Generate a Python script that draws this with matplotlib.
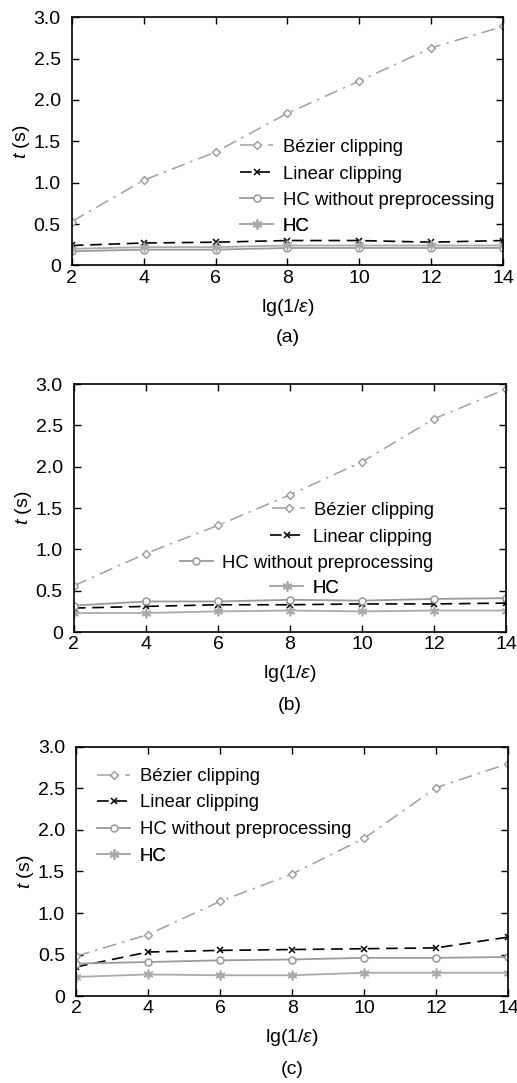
import matplotlib
matplotlib.use("Agg")
import matplotlib.pyplot as plt

plt.rcParams['font.family'] = ['Liberation Sans', 'DejaVu Sans']
plt.rcParams['mathtext.fontset'] = 'custom'
plt.rcParams['mathtext.rm'] = 'Liberation Sans'
plt.rcParams['mathtext.it'] = 'Liberation Sans:italic'

# data
x = [2, 4, 6, 8, 10, 12, 14]
labels = ['Bézier clipping', 'Linear clipping', 'HC without preprocessing', 'HC']

bezier_a = [0.53, 1.03, 1.37, 1.84, 2.23, 2.63, 2.89]
linear_a = [0.24, 0.27, 0.28, 0.30, 0.30, 0.28, 0.30]
hcwo_a = [0.17, 0.19, 0.19, 0.21, 0.21, 0.21, 0.21]
hc_a = [0.20, 0.22, 0.22, 0.24, 0.24, 0.24, 0.24]

bezier_b = [0.56, 0.95, 1.29, 1.66, 2.06, 2.58, 2.94]
linear_b = [0.29, 0.31, 0.33, 0.33, 0.34, 0.34, 0.35]
hcwo_b = [0.32, 0.37, 0.37, 0.39, 0.38, 0.40, 0.41]
hc_b = [0.23, 0.23, 0.25, 0.26, 0.25, 0.26, 0.26]

bezier_c = [0.48, 0.74, 1.14, 1.47, 1.90, 2.51, 2.80]
linear_c = [0.35, 0.53, 0.55, 0.56, 0.57, 0.58, 0.71]
hcwo_c = [0.39, 0.41, 0.43, 0.44, 0.46, 0.46, 0.47]
hc_c = [0.23, 0.26, 0.25, 0.25, 0.28, 0.28, 0.28]

# legend entry positions (axes fraction, left edge of handle)
leg_a = [(0.39, 0.476), (0.39, 0.367), (0.39, 0.262), (0.39, 0.157)]
leg_b = [(0.458, 0.492), (0.454, 0.383), (0.245, 0.278), (0.454, 0.177)]
leg_c = [(0.049, 0.88), (0.049, 0.775), (0.049, 0.667), (0.049, 0.562)]

panels = [
    ('(a)', [0.139, 0.755, 0.834, 0.229], bezier_a, linear_a, hcwo_a, hc_a, leg_a, 308, 337),
    ('(b)', [0.143, 0.4164, 0.836, 0.229], bezier_b, linear_b, hcwo_b, hc_b, leg_b, 673, 705),
    ('(c)', [0.147, 0.0803, 0.836, 0.230], bezier_c, linear_c, hcwo_c, hc_c, leg_c, 1038, 1070),
]

H = 1083
asterisk = (6, 2, 0)
fig = plt.figure(figsize=(5.17, 10.83), dpi=100)

for tag, rect, bz, ln, hw, hc, legpos, xl_y, cap_y in panels:
    ax = fig.add_axes(rect)
    l1, = ax.plot(x, bz, color='#a0a0a0', ls=(0, (9, 4, 1.5, 4)), lw=1.1,
                  marker='D', ms=4.5, mfc='white', mec='#999999', mew=1.0)
    l2, = ax.plot(x, ln, color='black', ls=(0, (7, 4)), lw=1.2,
                  marker='x', ms=5, mew=1.1)
    l3, = ax.plot(x, hw, color='#9a9a9a', ls='-', lw=1.3,
                  marker='o', ms=5, mfc='white', mec='#999999', mew=1.1)
    l4, = ax.plot(x, hc, color='#aaaaaa', ls='-', lw=1.3,
                  marker=asterisk, ms=7, mec='#aaaaaa', mew=1.2)

    ax.set_xlim(2, 14)
    ax.set_ylim(0, 3.0)
    ax.set_xticks(x)
    ax.set_yticks([0, 0.5, 1.0, 1.5, 2.0, 2.5, 3.0])
    ax.set_yticklabels(['0', '0.5', '1.0', '1.5', '2.0', '2.5', '3.0'])
    ax.tick_params(direction='in', top=True, right=True, length=5, width=1,
                   labelsize=14)
    ax.tick_params(axis='x', pad=3)
    ax.tick_params(axis='y', pad=8)
    for s in ax.spines.values():
        s.set_linewidth(1.2)

    ax.set_ylabel(r'$\mathit{t}$ (s)', fontsize=14, labelpad=1)
    fig.text(0.5 * (rect[0] * 2 + rect[2]), 1 - xl_y / H, r'lg(1/$\varepsilon$)',
             ha='center', va='center', fontsize=14)
    fig.text(0.5 * (rect[0] * 2 + rect[2]), 1 - cap_y / H, tag,
             ha='center', va='center', fontsize=14)

    for h, lab, (px, py) in zip([l1, l2, l3, l4], labels, legpos):
        lg = ax.legend([h], [lab], loc='center left', bbox_to_anchor=(px, py),
                       frameon=False, borderpad=0, borderaxespad=0,
                       handlelength=1.8, handletextpad=0.5, fontsize=13.3)
        ax.add_artist(lg)

fig.savefig('out.png', dpi=100)
